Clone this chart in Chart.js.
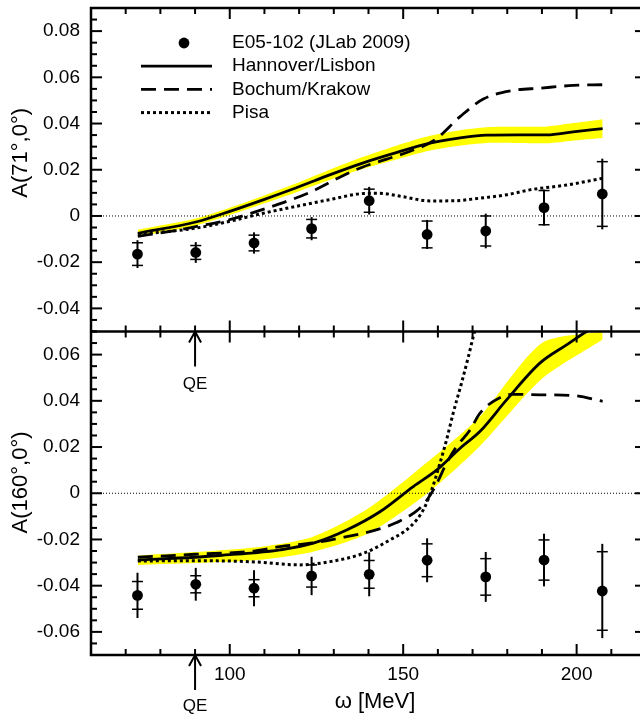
<!DOCTYPE html>
<html>
<head>
<meta charset="utf-8">
<title>Beam-normal asymmetry</title>
<script src="https://cdn.jsdelivr.net/npm/chart.js@4/dist/chart.umd.min.js"></script>
<style>
  html, body { margin: 0; padding: 0; background: #fff; overflow: hidden; }
  #wrap { position: relative; width: 652px; height: 716px; }
</style>
</head>
<body>
<div id="wrap"><canvas id="chart"></canvas></div>
<script>
// ── Data: E05-102 points ─────────────────────────────────
const omegaData = [73.4, 90.2, 107.0, 123.6, 140.2, 156.9, 173.8, 190.6, 207.4];

const asym71     = [-0.0165, -0.0158, -0.0117, -0.0055, 0.0066, -0.0080, -0.0065, 0.0036, 0.0095];
const asym71Stat = [0.0049, 0.0030, 0.0034, 0.0040, 0.0050, 0.0058, 0.0065, 0.0074, 0.0140];
const asym71Tot  = [0.0060, 0.0045, 0.0046, 0.0050, 0.0060, 0.0063, 0.0075, 0.0078, 0.0153];

const asym160     = [-0.0442, -0.0394, -0.0411, -0.0358, -0.0351, -0.0290, -0.0362, -0.0289, -0.0423];
const asym160Stat = [0.0060, 0.0037, 0.0037, 0.0048, 0.0060, 0.0071, 0.0079, 0.0087, 0.0170];
const asym160Tot  = [0.0098, 0.0071, 0.0078, 0.0083, 0.0095, 0.0095, 0.0108, 0.0114, 0.0204];

// ── Data: theory curves, A(71°,0°) ───────────────────────
const hlOmega71 = [73.5, 90.5, 100, 110, 119, 129, 138.5, 148, 157.7, 166, 174, 183, 191.4, 199, 207.5];
const hl71      = [-0.0075, -0.0025, 0.0020, 0.0072, 0.0121, 0.0179, 0.0230, 0.0274, 0.0315, 0.0337, 0.0350, 0.0351, 0.0351, 0.0364, 0.0378];
const hl71Upper = [-0.0060, -0.0010, 0.0036, 0.0089, 0.0140, 0.0201, 0.0256, 0.0304, 0.0347, 0.0370, 0.0384, 0.0386, 0.0387, 0.0402, 0.0419];
const hl71Lower = [-0.0090, -0.0040, 0.0004, 0.0055, 0.0102, 0.0157, 0.0204, 0.0244, 0.0283, 0.0304, 0.0316, 0.0316, 0.0315, 0.0326, 0.0337];

const bkOmega71 = [73.5, 82.8, 90.5, 100, 107.8, 115.4, 123.1, 130.3, 138, 145, 152, 159.2, 166.4, 173.1, 181.7, 189.4, 199, 207.5];
const bk71      = [-0.0088, -0.0067, -0.0045, -0.0016, 0.0020, 0.0058, 0.0102, 0.0157, 0.0210, 0.0245, 0.0280, 0.0330, 0.0430, 0.0506, 0.0543, 0.0553, 0.0565, 0.0568];

const piOmega71 = [73.5, 90.5, 100, 109.7, 119.3, 128.9, 138.5, 143.3, 150, 157.7, 165, 172.1, 180, 186.5, 197.1, 207.5];
const pi71      = [-0.0080, -0.0052, -0.0023, 0.0012, 0.0042, 0.0071, 0.0097, 0.0098, 0.0083, 0.0065, 0.0066, 0.0077, 0.0092, 0.0113, 0.0134, 0.0163];

// ── Data: theory curves, A(160°,0°) ──────────────────────
const hlOmega160 = [73.5, 90, 100, 107, 114.5, 124.1, 133.7, 143.3, 152.9, 159.7, 166.4, 172.1, 179.8, 189.4, 197.1, 202.9, 207.5];
const hl160      = [-0.0289, -0.0277, -0.0266, -0.0258, -0.0245, -0.0216, -0.0159, -0.0080, 0.0029, 0.0101, 0.0195, 0.0267, 0.0404, 0.0563, 0.0642, 0.0700, 0.0735];

const bandOmega160 = [73.5, 107, 124, 140, 157, 172, 190, 207.5];
const hl160Upper   = [-0.0270, -0.0235, -0.0188, -0.0065, 0.0135, 0.0330, 0.0650, 0.0700];
const hl160Lower   = [-0.0310, -0.0290, -0.0253, -0.0173, 0.0000, 0.0202, 0.0495, 0.0665];

const bkOmega160 = [73.5, 90, 107, 114.5, 125, 133, 140.4, 148.1, 154.8, 157.2, 159.7, 162.5, 165.4, 169.3, 172.1, 178.4, 181.7, 189.4, 199, 207.5];
const bk160      = [-0.0277, -0.0264, -0.0250, -0.0231, -0.0213, -0.0190, -0.0166, -0.0127, -0.0065, -0.0022, 0.0043, 0.0130, 0.0202, 0.0274, 0.0346, 0.0418, 0.0428, 0.0426, 0.0423, 0.0398];

const piOmega160 = [73.5, 90, 107, 120.2, 128.9, 138.5, 146.2, 152, 155.8, 158.2, 160.6, 162.5, 164.4, 166.8, 168.8, 170.2, 171.5];
const pi160      = [-0.0293, -0.0292, -0.0297, -0.0310, -0.0296, -0.0260, -0.0202, -0.0145, -0.0072, 0.0014, 0.0130, 0.0231, 0.0346, 0.0476, 0.0591, 0.0678, 0.0750];

// ── Axes ─────────────────────────────────────────────────
const xTickValues   = [100, 150, 200];
const topTickValues = [-0.04, -0.02, 0, 0.02, 0.04, 0.06, 0.08];
const botTickValues = [-0.06, -0.04, -0.02, 0, 0.02, 0.04, 0.06];
const qeOmega = 90;

const legendLabels = ['E05-102 (JLab 2009)', 'Hannover/Lisbon', 'Bochum/Krakow', 'Pisa'];

// ── Styles ───────────────────────────────────────────────
const FONT = '"Liberation Sans", Arial, Helvetica, sans-serif';
const BAND = '#ffff00';
const DASH = [15, 8];
const DOT = [3, 3];

const pts = (xs, ys) => xs.map((x, i) => ({ x, y: ys[i] }));

function curve(label, xs, ys, axis, dash, legend) {
  return {
    label, data: pts(xs, ys), yAxisID: axis, showLine: true,
    borderColor: '#000', borderWidth: dash === DOT ? 3 : 2.8, borderDash: dash,
    pointRadius: 0, fill: false, cubicInterpolationMode: 'monotone', order: 5,
    inLegend: legend,
  };
}

function band(xs, ys, axis, fill) {
  return {
    label: 'band', data: pts(xs, ys), yAxisID: axis, showLine: true,
    borderWidth: 0, borderColor: BAND, backgroundColor: BAND, pointRadius: 0,
    fill, tension: 0.25, order: 10,
  };
}

function points(ys, axis, legend) {
  return {
    label: legendLabels[0], data: pts(omegaData, ys), yAxisID: axis,
    backgroundColor: '#000', borderWidth: 0, pointRadius: 5.4, order: 0,
    inLegend: legend,
  };
}

const datasets = [
  band(hlOmega71, hl71Upper, 'yTop', '+1'),
  band(hlOmega71, hl71Lower, 'yTop', false),
  band(bandOmega160, hl160Upper, 'yBot', '+1'),
  band(bandOmega160, hl160Lower, 'yBot', false),
  curve(legendLabels[1], hlOmega71, hl71, 'yTop', [], true),
  curve(legendLabels[2], bkOmega71, bk71, 'yTop', DASH, true),
  curve(legendLabels[3], piOmega71, pi71, 'yTop', DOT, true),
  curve(legendLabels[1], hlOmega160, hl160, 'yBot', [], false),
  curve(legendLabels[2], bkOmega160, bk160, 'yBot', DASH, false),
  curve(legendLabels[3], piOmega160, pi160, 'yBot', DOT, false),
  points(asym71, 'yTop', true),
  points(asym160, 'yBot', false),
];

// ── Helpers ──────────────────────────────────────────────
function seg(ctx, x1, y1, x2, y2) {
  ctx.beginPath();
  ctx.moveTo(x1, y1);
  ctx.lineTo(x2, y2);
  ctx.stroke();
}

function drawErrors(ctx, ys, stat, tot, xs, sy) {
  omegaData.forEach((w, i) => {
    const px = xs.getPixelForValue(w);
    ctx.lineWidth = 2;
    seg(ctx, px, sy.getPixelForValue(ys[i] + tot[i]), px, sy.getPixelForValue(ys[i] - tot[i]));
    ctx.lineWidth = 1.5;
    [ys[i] + stat[i], ys[i] - stat[i]].forEach(v => {
      const py = sy.getPixelForValue(v);
      seg(ctx, px - 5.5, py, px + 5.5, py);
    });
  });
}

function drawArrow(ctx, x, tipY, tailY, textY) {
  const dir = tailY > tipY ? 1 : -1;
  ctx.lineWidth = 2;
  seg(ctx, x, tipY, x, tailY);
  ctx.beginPath();
  ctx.moveTo(x - 6, tipY + dir * 11);
  ctx.lineTo(x, tipY);
  ctx.lineTo(x + 6, tipY + dir * 11);
  ctx.stroke();
  ctx.fillText('QE', x, textY);
}

// ── Plugins ──────────────────────────────────────────────
const panelPlugin = {
  id: 'panels',
  afterDatasetsDraw(chart) {
    const { ctx, scales } = chart;
    const sx = scales.x;
    ctx.save();
    ctx.strokeStyle = '#000';
    // zero lines
    ctx.lineWidth = 1;
    ctx.setLineDash([1, 2]);
    [scales.yTop, scales.yBot].forEach(p => {
      const py = p.getPixelForValue(0);
      seg(ctx, sx.left, py, sx.right, py);
    });
    ctx.setLineDash([]);
    // error bars
    drawErrors(ctx, asym71, asym71Stat, asym71Tot, sx, scales.yTop);
    drawErrors(ctx, asym160, asym160Stat, asym160Tot, sx, scales.yBot);
    ctx.restore();
  },
  afterDraw(chart) {
    const { ctx, scales, chartArea: a } = chart;
    const sx = scales.x;
    const panels = [scales.yTop, scales.yBot];
    ctx.save();
    ctx.strokeStyle = '#000';
    ctx.fillStyle = '#000';

    // frame
    ctx.lineWidth = 2.5;
    ctx.strokeRect(a.left, a.top, a.right - a.left, a.bottom - a.top);
    seg(ctx, a.left, scales.yTop.bottom, a.right, scales.yTop.bottom);

    // ticks
    ctx.lineWidth = 2;
    for (let w = sx.min; w <= sx.max; w += 10) {
      const px = sx.getPixelForValue(w);
      const len = w % 50 === 0 ? 11 : 6;
      panels.forEach(p => {
        seg(ctx, px, p.top, px, p.top + len);
        seg(ctx, px, p.bottom, px, p.bottom - len);
      });
    }
    panels.forEach(p => {
      const i0 = Math.round(p.min / 0.005), i1 = Math.round(p.max / 0.005);
      for (let i = i0; i <= i1; i++) {
        const py = p.getPixelForValue(i * 0.005);
        const len = i % 4 === 0 ? 11 : 6;
        seg(ctx, a.left, py, a.left + len, py);
        seg(ctx, a.right, py, a.right - len, py);
      }
    });

    // axis titles
    ctx.textBaseline = 'middle';
    ctx.font = '22px ' + FONT;
    ctx.textAlign = 'center';
    ctx.fillText('\u03c9 [MeV]', 375, 702);
    [['A(71\u00b0,0\u00b0)', scales.yTop], ['A(160\u00b0,0\u00b0)', scales.yBot]].forEach(([t, p]) => {
      ctx.save();
      ctx.translate(21, p.top + 100);
      ctx.rotate(-Math.PI / 2);
      ctx.textAlign = 'right';
      ctx.fillText(t, 0, 0);
      ctx.restore();
    });

    // QE arrows
    ctx.font = '17px ' + FONT;
    ctx.textAlign = 'center';
    const qx = sx.getPixelForValue(qeOmega);
    drawArrow(ctx, qx, scales.yBot.top, scales.yBot.top + 35, scales.yBot.top + 53);
    drawArrow(ctx, qx, scales.yBot.bottom, scales.yBot.bottom + 35, 706);

    // legend
    ctx.font = '19px ' + FONT;
    ctx.textAlign = 'left';
    const items = chart.data.datasets.filter(d => d.inLegend);
    legendLabels.forEach((label, i) => {
      const d = items.find(it => it.label === label);
      const y = a.top + 35 + i * 23.2;
      if (d.showLine) {
        ctx.lineWidth = d.borderWidth;
        ctx.setLineDash(d.borderDash);
        seg(ctx, a.left + 50, y, a.left + 121, y);
        ctx.setLineDash([]);
      } else {
        ctx.beginPath();
        ctx.arc(a.left + 93, y, d.pointRadius, 0, Math.PI * 2);
        ctx.fill();
      }
      ctx.fillText(label, a.left + 141, y);
    });
    ctx.restore();
  },
};

// ── Chart ────────────────────────────────────────────────
const yAxis = (min, max, ticks, weight) => ({
  type: 'linear', position: 'left', stack: 'panels', stackWeight: 1, weight,
  min, max,
  grid: { display: false, drawTicks: false },
  border: { display: false },
  afterBuildTicks: s => { s.ticks = ticks.map(value => ({ value })); },
  afterFit: s => { s.width = 91; s.paddingTop = 0; s.paddingBottom = 0; },
  ticks: {
    autoSkip: false, padding: 11, color: '#000', font: { family: FONT, size: 19 },
    callback: v => (Math.abs(v) < 1e-9 ? '0' : v.toFixed(2)),
  },
});

new Chart(document.getElementById('chart'), {
  type: 'scatter',
  data: { datasets },
  options: {
    responsive: true,
    maintainAspectRatio: false,
    animation: false,
    events: [],
    layout: { padding: { left: 0, right: 6, top: 8, bottom: 0 } },
    plugins: { legend: { display: false }, tooltip: { enabled: false } },
    scales: {
      x: {
        type: 'linear', position: 'bottom', min: 60, max: 220,
        grid: { display: false, drawTicks: false },
        border: { display: false },
        afterBuildTicks: s => { s.ticks = xTickValues.map(value => ({ value })); },
        afterFit: s => { s.height = 61; s.paddingLeft = 0; s.paddingRight = 0; },
        ticks: { autoSkip: false, maxRotation: 0, padding: 8, color: '#000', font: { family: FONT, size: 19 } },
      },
      yBot: yAxis(-0.07, 0.07, botTickValues, 1),
      yTop: yAxis(-0.05, 0.09, topTickValues, 2),
    },
  },
  plugins: [panelPlugin],
});
</script>
</body>
</html>
